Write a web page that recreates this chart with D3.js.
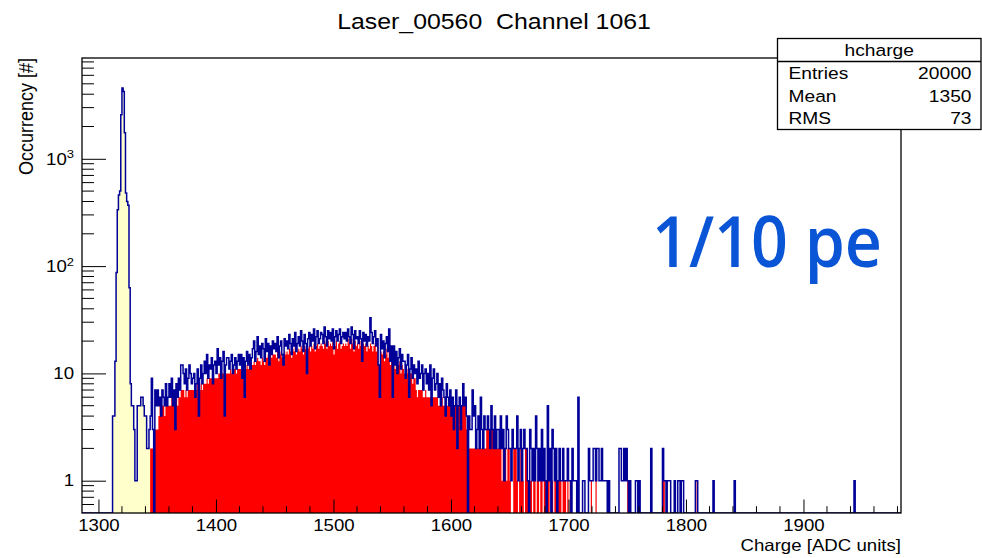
<!DOCTYPE html>
<html>
<head>
<meta charset="utf-8">
<script src="https://cdn.jsdelivr.net/npm/d3@7"></script>
<style>
  body { margin: 0; background: #fff; }
  text { font-family: "Liberation Sans", Arial, Helvetica, sans-serif; fill: #000; }
  text.note { font-family: "Open Sans", "Noto Sans", sans-serif; font-weight: 600; fill: #0a55d6; }
</style>
</head>
<body>
<svg id="chart" width="982" height="558"></svg>
<script>
// ---- data ----
const title = "Laser_00560  Channel 1061";
const xTitle = "Charge [ADC units]";
const yTitle = "Occurrency [#]";
const note = "1/10 pe";
const statsName = "hcharge";
const statsLabels = ["Entries", "Mean", "RMS"];
const statsValues = ["20000", "1350", "73"];

const xMin = 1286, xMax = 1983;          // histogram range, 1 ADC count per bin
const xTicks = [1300, 1400, 1500, 1600, 1700, 1800, 1900];
const yTicks = [1, 10, 100, 1000];
const yMin = 0.5, yMax = 8700;

// all events, one value per bin starting at xMin (bins past the list are empty)
const total = [
  0,0,0,0,0,0,0,0,0,0, 0,0,0,0,0,0,0,0,0,0, 0,0,0,0,0,0,
  // 1312
  4,4,13,87,335,460,500,2570,4570,4230, 1750,480,400,370,63,8,5,5,3,1,
  1,5,5,5,6,6,5,4,4,2, 2,3,
  // 1344
  4,9,3,0,7,5,
  7,5,6,4,7,6,5,8,5,6,
  8,6,9,5,7,3,8,6,9,7,
  12,12,10,8,11,7,9,12,10,8,
  9,10,6,8,11,4,9,12,8,10,
  13,10,15,9,12,11,14,8,12,13,
  // 1400
  10,17,12,14,9,13,16,4,12,14,
  14,11,13,15,10,12,14,11,13,15,
  12,15,9,14,6,13,16,12,15,11,
  14,17,20,13,16,22,15,18,14,19,
  17,13,21,16,19,12,18,15,20,17,
  19,16,22,14,18,20,15,12,21,18,
  20,17,23,19,15,21,18,24,16,19,
  22,18,25,20,16,23,19,10,21,24,
  18,23,20,26,17,22,25,19,21,24,
  23,19,27,22,18,25,21,24,20,26,
  // 1500
  17,22,25,20,23,26,19,22,24,21,
  24,20,26,22,19,27,23,17,25,21,
  22,19,25,21,13,24,20,23,18,22,
  20,33,24,19,22,25,18,21,12,6,
  23,17,20,14,19,22,16,26,13,18,
  6,18,12,16,10,14,17,11,15,13,
  13,9,12,15,6,11,14,9,12,10,
  11,8,13,9,10,12,7,10,11,8,
  10,7,12,5,9,11,7,8,10,6,
  8,5,9,7,6,4,8,6,5,7,
  // 1600
  4,6,3,5,7,2,5,6,3,5,
  8,5,6,4,0,4,3,3,7,4,
  5,2,3,4,2,6,3,2,4,3,
  3,4,3,2,5,3,2,4,2,3,
  3,2,4,2,3,1,2,4,3,2,
  2,1,3,2,2,2,4,1,2,3,
  1,2,3,2,2,1,0,3,2,1,
  2,1,4,2,1,2,1,3,1,2,
  1,0,5,1,2,0,3,2,1,2,
  0,1,2,1,1,2,1,1,1,2,
  // 1700
  1,1,0,2,1,1,1,0,6,0,
  0,0,1,1,0,0,0,2,1,1,
  1,2,2,1,2,2,1,1,2,1,
  1,1,1,0,1,0,0,0,0,0,
  0,0,0,2,2,1,1,2,1,2,
  1,0,1,0,0,0,0,1,1,0,
  1,0,0,0,0,0,0,0,0,0,
  2,0,0,0,0,0,0,0,0,0,
  2,1,1,0,1,1,1,0,0,0,
  1,0,0,1,1,0,1,1,0,0,
  // 1800
  0,0,0,0,0,0,0,0,1,1,
  0,0,0,0,0,0,0,0,0,0,
  0,0,0,1,0,0,0,0,0,0,
  0,0,0,0,0,0,0,0,0,0,
  0,1,0,0,0,0,0,0,0,0,
  0,0,0,0,0,0,0,0,0,0, 0,0,0,0,0,0,0,0,0,0, 0,0,0,0,0,0,0,0,0,0,
  0,0,0,0,0,0,0,0,0,0, 0,0,0,0,0,0,0,0,0,0, 0,0,0,0,0,0,0,0,0,0,
  0,0,0,0,0,0,0,0,0,0, 0,0,0,0,0,0,0,0,0,0, 0,0,0,0,0,0,0,0,0,0,
  // 1940
  0,0,0,1
];

// pedestal part of the histogram is shown in yellow
const pedestalEnd = 1344;

// signal events (red), one value per bin starting at signalStart
const signalStart = 1344;
const signal = [
  2,2,2,0,3,3,
  3,4,5,4,5,5,4,5,5,5,
  5,5,6,5,5,3,6,5,6,6,
  7,7,7,6,7,6,7,7,7,7,
  7,7,6,7,8,4,7,8,7,8,
  8,8,9,8,9,9,9,8,9,9,
  // 1400
  9,9,10,10,9,10,10,4,10,10,
  10,10,11,10,10,11,11,10,11,11,
  11,11,9,12,6,11,12,11,12,11,
  12,12,13,12,13,14,13,13,12,14,
  13,12,14,14,15,12,15,14,15,15,
  15,14,16,13,15,16,14,12,16,15,
  16,15,17,16,14,17,16,18,15,16,
  17,16,18,17,15,18,17,10,17,18,
  16,18,17,19,16,18,19,17,18,19,
  18,17,20,19,17,20,18,19,18,20,
  // 1500
  15,18,20,17,19,20,17,18,19,18,
  19,18,21,19,17,21,19,16,20,18,
  19,17,20,18,13,19,18,19,16,18,
  17,19,18,16,18,19,16,18,12,6,
  16,15,16,13,15,17,14,16,12,15,
  6,14,11,13,10,12,13,10,12,11,
  10,9,10,11,6,10,10,8,9,9,
  7,6,7,7,7,7,6,6,7,6,
  6,6,6,5,6,6,6,6,6,5,
  5,5,6,5,5,4,5,5,5,5,
  // 1600
  4,5,3,5,5,2,5,5,3,5,
  5,5,5,3,0,2,2,2,2,2,
  2,2,2,2,2,2,2,2,2,2,
  3,3,3,2,3,3,2,3,2,2,
  2,2,2,1,2,1,2,1,2,2,
  1,0,0,2,2,2,1,0,1,2,
  1,1,0,2,2,1,0,1,1,0,
  2,1,0,1,1,0,1,1,0,1,
  1,0,1,1,0,0,1,0,1,1,
  0,1,1,1,0,1,1,1,0,1,
  // 1700
  0,1,0,0,0,0,0,0,0,0,
  0,0,0,0,0,0,0,0,0,1,
  0,0,0,1,0,0,0,0,0,0,
  0,0,0,0,0,0,0,0,0,0,
  0,0,0,0,0,0,0,0,0,0,
  1,0,0,0,0,0,0,0,0,0,
  0,0,0,0,0,0,0,0,0,0,
  0,0,0,0,0,0,0,0,0,0,
  1,1,0,0,0,0,0,0,0,0,
  0,0,0,0,0,0,0,0,0,0,
  0,0,0,0,0,0,0,0,0,1
];

// ---- layout ----
const stretch = 1.13;   // text in the picture is a little wider than Helvetica
const frame = { left: 82, right: 901, top: 58, bottom: 513 };
const svg = d3.select("#chart");

const x = d3.scaleLinear().domain([xMin, xMax]).range([frame.left, frame.right]);
const y = d3.scaleLog().domain([yMin, yMax]).range([frame.bottom, frame.top]);
const yOf = (n) => (n > 0 ? y(Math.max(n, yMin)) : frame.bottom);

const bins = d3.range(xMin, xMax).map((lo) => ({
  lo: lo,
  hi: lo + 1,
  n: total[lo - xMin] || 0,
  s: lo >= signalStart ? signal[lo - signalStart] || 0 : 0,
}));
const steps = (list, key) => list.flatMap((b) => [[b.lo, b[key]], [b.hi, b[key]]]);

svg.append("clipPath").attr("id", "clip")
  .append("rect")
  .attr("x", frame.left).attr("y", frame.top)
  .attr("width", frame.right - frame.left).attr("height", frame.bottom - frame.top);

const plot = svg.append("g").attr("clip-path", "url(#clip)");

const area = d3.area()
  .x((d) => x(d[0]))
  .y0(frame.bottom)
  .y1((d) => yOf(d[1]));

plot.append("path")
  .datum(steps(bins.filter((b) => b.lo < pedestalEnd), "n"))
  .attr("fill", "#ffffcc")
  .attr("d", area);

plot.append("path")
  .datum(steps(bins.filter((b) => b.lo >= signalStart), "s"))
  .attr("fill", "#ff0000")
  .attr("d", area);

plot.append("path")
  .datum(steps(bins, "n"))
  .attr("fill", "none")
  .attr("stroke", "#000099")
  .attr("stroke-width", 1.5)
  .attr("d", d3.line().x((d) => x(d[0])).y((d) => yOf(d[1])));

// ---- axes ----
const gx = svg.append("g").attr("transform", "translate(0," + frame.bottom + ")");
gx.call(d3.axisBottom(x).tickValues(xTicks).tickSize(-13.5).tickPadding(6.5).tickFormat(d3.format("d")));
gx.select(".domain").remove();
gx.selectAll(".tick text")
  .attr("font-family", null)
  .attr("font-size", 16.5)
  .attr("transform", "scale(" + stretch + ",1)");

const xMinor = d3.range(1300, xMax, 20).filter((v) => v % 100 !== 0);
svg.append("g").selectAll("line").data(xMinor).enter().append("line")
  .attr("x1", (d) => x(d)).attr("x2", (d) => x(d))
  .attr("y1", frame.bottom).attr("y2", frame.bottom - 6.8)
  .attr("stroke", "#000");

const gy = svg.append("g").attr("transform", "translate(" + frame.left + ",0)");
gy.call(d3.axisLeft(y).tickValues(yTicks).tickSize(-24).tickPadding(7)
  .tickFormat((d) => (d < 100 ? String(d) : "10")));
gy.select(".domain").remove();
gy.selectAll(".tick text")
  .attr("font-family", null)
  .attr("font-size", 16.5)
  .attr("transform", "scale(" + stretch + ",1)")
  .each(function (d) {
    if (d >= 100) {
      d3.select(this).append("tspan")
        .attr("font-size", 11.5)
        .attr("dy", "-0.55em")
        .text(String(Math.round(Math.log10(d))));
    }
  });

const yMinor = [];
[0.1, 1, 10, 100, 1000].forEach((dec) => {
  d3.range(2, 10).forEach((m) => {
    const v = dec * m;
    if (v > 0.55 && v < yMax) yMinor.push(v);
  });
});
svg.append("g").selectAll("line").data(yMinor).enter().append("line")
  .attr("x1", frame.left).attr("x2", frame.left + 12)
  .attr("y1", (d) => y(d)).attr("y2", (d) => y(d))
  .attr("stroke", "#000");

svg.append("rect")
  .attr("x", frame.left).attr("y", frame.top)
  .attr("width", frame.right - frame.left).attr("height", frame.bottom - frame.top)
  .attr("fill", "none").attr("stroke", "#000").attr("stroke-width", 1.3);

// ---- texts ----
function label(x0, y0, str, size, anchor) {
  return svg.append("text")
    .attr("transform", "translate(" + x0 + "," + y0 + ") scale(" + stretch + ",1)")
    .attr("text-anchor", anchor)
    .attr("font-size", size)
    .style("white-space", "pre")
    .text(str);
}

label(494, 28.5, title, 22, "middle");
label(frame.right, 551, xTitle, 16.5, "end");

svg.append("text")
  .attr("transform", "translate(33," + frame.top + ") rotate(-90) scale(1," + stretch + ")")
  .attr("text-anchor", "end")
  .attr("font-size", 18)
  .text(yTitle);

// stats box
const box = { x: 777.5, y: 38.5, w: 203.5, h: 91, head: 23 };
svg.append("rect")
  .attr("x", box.x).attr("y", box.y).attr("width", box.w).attr("height", box.h)
  .attr("fill", "#fff").attr("stroke", "#000").attr("stroke-width", 1.3);
svg.append("line")
  .attr("x1", box.x).attr("x2", box.x + box.w)
  .attr("y1", box.y + box.head).attr("y2", box.y + box.head)
  .attr("stroke", "#000").attr("stroke-width", 1.3);
label(box.x + box.w / 2, box.y + 17, statsName, 17, "middle");
const rowH = (box.h - box.head) / statsLabels.length;
statsLabels.forEach((s, i) => {
  const base = box.y + box.head + rowH * (i + 0.5) + 6;
  label(box.x + 11, base, s, 17, "start");
  label(box.x + box.w - 9.5, base, statsValues[i], 17, "end");
});

svg.append("text")
  .attr("class", "note")
  .attr("x", 652).attr("y", 267)
  .attr("font-size", 70)
  .attr("textLength", 230)
  .attr("lengthAdjust", "spacingAndGlyphs")
  .text(note);
</script>
</body>
</html>
